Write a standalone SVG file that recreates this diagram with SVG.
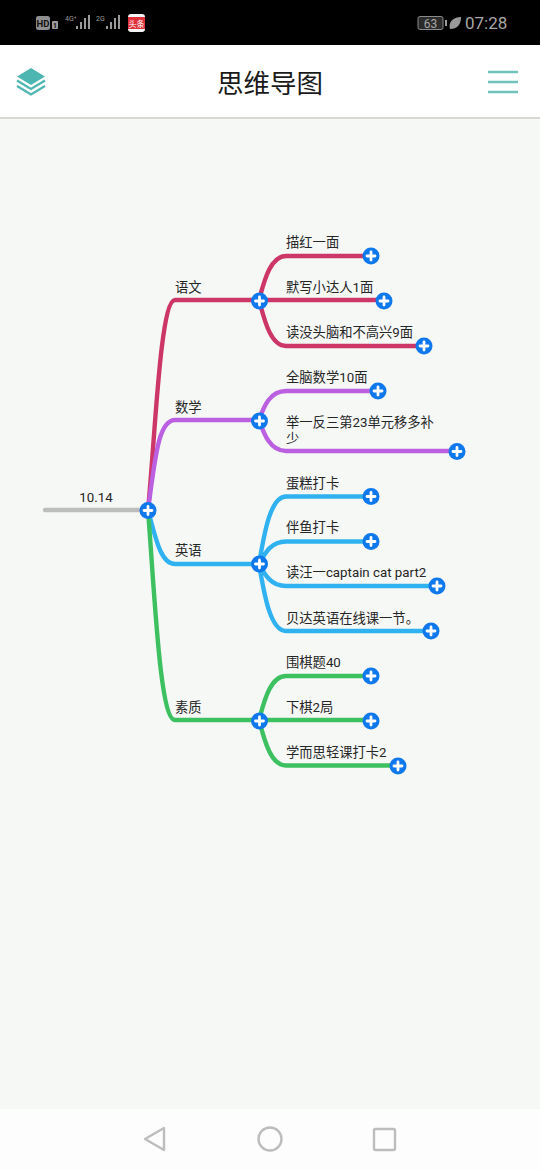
<svg xmlns="http://www.w3.org/2000/svg" width="540" height="1170" viewBox="0 0 540 1170">
<style>
text{font-family:"Roboto","Noto Sans CJK SC",sans-serif;fill:#262626}
.t{font-size:13.3px}
.c{fill:none;stroke-width:4.400;stroke-linecap:round}
.p{fill:#0f78ec}
.x{stroke:#fff;stroke-width:2.800;stroke-linecap:round}
.nav{fill:none;stroke:#bdbdbd;stroke-width:2.400;stroke-linejoin:round}
.ham{stroke:#6fc3ba;stroke-width:2.400}
.sb{fill:#9a9a9a}
</style>
<defs>
<g id="plus"><circle class="p" r="8.500"/><path class="x" d="M-4,0H4M0,-4V4"/></g>
</defs>
<rect width="540" height="1170" fill="#f6f8f6"/>

<g id="status-bar">
<rect width="540" height="45" fill="#000"/>
<rect x="36" y="16" width="14" height="14" rx="2.500" fill="#8f8f8f"/>
<text x="43" y="26.500" font-size="9.500" font-weight="700" text-anchor="middle" style="fill:#111">HD</text>
<rect x="52" y="21" width="6" height="8" rx="1" fill="#9a9a9a"/>
<text x="55" y="28" font-size="7" font-weight="700" text-anchor="middle" style="fill:#111">1</text>
<text x="65" y="21" font-size="7" style="fill:#9a9a9a">4G⁺</text>
<rect class="sb" x="76" y="26" width="2" height="3"/><rect class="sb" x="80" y="22" width="2" height="7"/><rect class="sb" x="84" y="18" width="2" height="11"/><rect class="sb" x="88" y="15" width="2" height="14"/>
<text x="96" y="21" font-size="7" style="fill:#9a9a9a">2G</text>
<rect class="sb" x="106" y="26" width="2" height="3"/><rect class="sb" x="110" y="22" width="2" height="7"/><rect class="sb" x="114" y="18" width="2" height="11"/><rect class="sb" x="118" y="15" width="2" height="14"/>
<rect x="128" y="14" width="17" height="18" rx="3" fill="#f4f4f4"/>
<rect x="128" y="17" width="17" height="12" fill="#e0303a"/>
<text x="136.500" y="27" font-size="8" text-anchor="middle" style="fill:#fff">头条</text>
<rect x="418" y="16.500" width="25" height="13" rx="2" fill="#2b2b2b" stroke="#8a8a8a"/>
<text x="430.500" y="27.500" font-size="12" text-anchor="middle" style="fill:#a8a8a8">63</text>
<rect x="445" y="20" width="2" height="6" fill="#9a9a9a"/>
<path d="M450,29C448,22 453,17 461,17C461,25 457,29 450,29Z" fill="#9a9a9a"/>
<text x="465" y="29" font-size="17" style="fill:#a8a8a8">07:28</text>
</g>

<g id="header">
<rect y="45" width="540" height="72" fill="#fff"/>
<rect y="117" width="540" height="2" fill="#d8dad6"/>
<path d="M31,68L45,76.500L31,85L17,76.500Z" fill="#4db6b0"/>
<path d="M17,80.500L31,89L45,80.500" fill="none" stroke="#4db6b0" stroke-width="2.200"/>
<path d="M17,86L31,94.500L45,86" fill="none" stroke="#4db6b0" stroke-width="2.200"/>
<text x="270" y="93" font-size="26.500" text-anchor="middle" style="fill:#1a1a1a">思维导图</text>
<path class="ham" d="M488,72H518M488,82H518M488,92H518"/>
</g>

<g id="connectors">
<path class="c" stroke="#bdbdbd" d="M45,510H148"/>
<path class="c" stroke="#cc3668" d="M148,510C155,440 160,300 175,300H259"/>
<path class="c" stroke="#cc3668" d="M259,300C264,282 270,256 286,256H371M259,300H384M259,300C264,318 270,346 286,346H424"/>
<path class="c" stroke="#bb60e0" d="M148,510C155,460 158,420 175,420H259"/>
<path class="c" stroke="#bb60e0" d="M259,420C264,406 270,391 286,391H378M259,420C264,434 270,451 286,451H457"/>
<path class="c" stroke="#30b2f0" d="M148,510C155,535 160,564 175,564H259"/>
<path class="c" stroke="#30b2f0" d="M259,564C264,535 270,496.500 286,496.500H371M259,564C265,553 271,541.500 286,541.500H371M259,564C265,575 271,586 286,586H437M259,564C264,593 270,631 286,631H431"/>
<path class="c" stroke="#3cc060" d="M148,510C155,600 160,720 175,720H259"/>
<path class="c" stroke="#3cc060" d="M259,720C264,702 270,676 286,676H371M259,720H371M259,720C264,738 270,765.500 286,765.500H398"/>
</g>

<g id="root"><text class="t" x="96" y="502" text-anchor="middle">10.14</text><use href="#plus" x="148" y="510.500"/></g>

<g id="n-yuwen"><text class="t" x="175" y="292">语文</text><use href="#plus" x="259.500" y="301"/></g>
<g id="n-yw1"><text class="t" x="286" y="247">描红一面</text><use href="#plus" x="371" y="256"/></g>
<g id="n-yw2"><text class="t" x="286" y="292">默写小达人1面</text><use href="#plus" x="384" y="301"/></g>
<g id="n-yw3"><text class="t" x="286" y="337">读没头脑和不高兴9面</text><use href="#plus" x="424" y="346"/></g>

<g id="n-shuxue"><text class="t" x="175" y="412">数学</text><use href="#plus" x="259.500" y="421"/></g>
<g id="n-sx1"><text class="t" x="286" y="382">全脑数学10面</text><use href="#plus" x="378" y="391"/></g>
<g id="n-sx2"><text class="t" x="286" y="427">举一反三第23单元移多补</text><text class="t" x="286" y="443">少</text><use href="#plus" x="457" y="451.500"/></g>

<g id="n-yingyu"><text class="t" x="175" y="555">英语</text><use href="#plus" x="259.500" y="564"/></g>
<g id="n-yy1"><text class="t" x="286" y="488">蛋糕打卡</text><use href="#plus" x="371" y="496.500"/></g>
<g id="n-yy2"><text class="t" x="286" y="532">伴鱼打卡</text><use href="#plus" x="371" y="541.500"/></g>
<g id="n-yy3"><text class="t" x="286" y="577">读汪一captain cat part2</text><use href="#plus" x="437" y="586"/></g>
<g id="n-yy4"><text class="t" x="286" y="623">贝达英语在线课一节。</text><use href="#plus" x="431" y="631"/></g>

<g id="n-suzhi"><text class="t" x="175" y="712">素质</text><use href="#plus" x="259.500" y="721"/></g>
<g id="n-sz1"><text class="t" x="286" y="667">围棋题40</text><use href="#plus" x="371" y="676"/></g>
<g id="n-sz2"><text class="t" x="286" y="712">下棋2局</text><use href="#plus" x="371" y="721"/></g>
<g id="n-sz3"><text class="t" x="286" y="757">学而思轻课打卡2</text><use href="#plus" x="398" y="766"/></g>

<g id="nav-bar">
<rect y="1109" width="540" height="61" fill="#fdfdfd"/>
<path class="nav" d="M164,1128V1150L145,1139Z"/>
<circle class="nav" cx="270" cy="1139" r="11.500"/>
<rect class="nav" x="374" y="1129" width="21" height="21" rx="1.500"/>
</g>
</svg>
